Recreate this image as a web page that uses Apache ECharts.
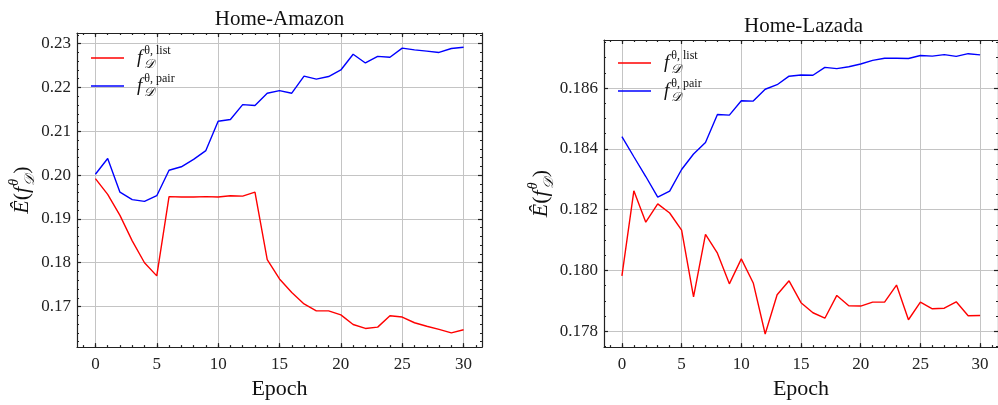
<!DOCTYPE html>
<html><head><meta charset="utf-8">
<script src="https://cdn.jsdelivr.net/npm/echarts@6/dist/echarts.min.js"></script>
<style>html,body{margin:0;padding:0;background:#fff}#c{width:998px;height:405px}</style>
</head><body><div id="c"></div>
<script>
// ---- data ----
const epochs = [0,1,2,3,4,5,6,7,8,9,10,11,12,13,14,15,16,17,18,19,20,21,22,23,24,25,26,27,28,29,30];
const amazonList = [0.1992,0.1956,0.1908,0.1850,0.1800,0.1770,0.1951,0.1950,0.1950,0.1951,0.1950,0.1953,0.1952,0.1961,0.1807,0.1763,0.1732,0.1706,0.1690,0.1690,0.1681,0.1659,0.1650,0.1653,0.1679,0.1676,0.1663,0.1655,0.1648,0.1640,0.1647];
const amazonPair = [0.2002,0.2038,0.1961,0.1944,0.1940,0.1953,0.2011,0.2019,0.2036,0.2056,0.2123,0.2127,0.2161,0.2159,0.2187,0.2193,0.2187,0.2226,0.2219,0.2225,0.2240,0.2276,0.2256,0.2271,0.2269,0.2290,0.2286,0.2283,0.2280,0.2289,0.2292];
const lazadaList = [0.17982,0.18262,0.18159,0.18219,0.18189,0.18133,0.17913,0.18119,0.18057,0.17956,0.18038,0.17959,0.17791,0.17920,0.17966,0.17894,0.17861,0.17843,0.17918,0.17884,0.17883,0.17896,0.17896,0.17952,0.17838,0.17896,0.17874,0.17876,0.17897,0.17851,0.17852];
const lazadaPair = [0.18440,0.18374,0.18309,0.18241,0.18261,0.18332,0.18383,0.18421,0.18513,0.18511,0.18558,0.18557,0.18596,0.18611,0.18639,0.18643,0.18642,0.18668,0.18664,0.18670,0.18679,0.18691,0.18698,0.18698,0.18697,0.18707,0.18705,0.18710,0.18704,0.18713,0.18709];
const xTicks = [0,5,10,15,20,25,30];
const amazonYTicks = [0.17,0.18,0.19,0.20,0.21,0.22,0.23];
const lazadaYTicks = [0.178,0.180,0.182,0.184,0.186];
const titles = ['Home-Amazon','Home-Lazada'];
const seriesNames = ['list','pair'];
const xLabel = 'Epoch';

// ---- styling ----
const FONT = "'Liberation Serif','DejaVu Serif',serif";
const AX = '#222';
const GRIDC = '#c4c4c4';
function minorList(a, b, step, dec) {
  const out = []; const n = Math.round((b - a) / step);
  for (let i = 0; i <= n; i++) out.push(+(a + i * step).toFixed(dec));
  return out;
}
const xMinor = minorList(-1, 31, 1, 0);
const amazonYMinor = minorList(0.162, 0.232, 0.002, 3);
const lazadaYMinor = minorList(0.1775, 0.1875, 0.0005, 4);

const nameRich = {
  e: {fontFamily: FONT, fontSize: 22, fontStyle: 'italic', color: '#111', lineHeight: 30, align: 'left'},
  p: {fontFamily: FONT, fontSize: 22, color: '#111', lineHeight: 30, align: 'left'},
  f: {fontFamily: FONT, fontSize: 22, fontStyle: 'italic', color: '#111', lineHeight: 30, align: 'left', padding: [0, 1, 0, 0]},
  sup: {fontFamily: FONT, fontSize: 14, fontStyle: 'italic', color: '#111', lineHeight: 14, verticalAlign: 'top', align: 'left', width: 0},
  sub: {fontFamily: FONT, fontSize: 14, fontStyle: 'italic', color: '#111', lineHeight: 13, verticalAlign: 'bottom', align: 'left', padding: [0, 1, 0, 0]}
};
const legRich = {
  pad: {width: 8, align: 'left', lineHeight: 26},
  f: {fontFamily: FONT, fontSize: 19, fontStyle: 'italic', color: '#111', lineHeight: 26, align: 'left', padding: [0, 2, 0, 0]},
  sup: {fontFamily: FONT, fontSize: 12, color: '#111', lineHeight: 12, verticalAlign: 'top', align: 'left', width: 0},
  sub: {fontFamily: FONT, fontSize: 13, fontStyle: 'italic', color: '#111', lineHeight: 12, verticalAlign: 'bottom', align: 'left'}
};

const grids = [
  {left: 77, top: 33, width: 405, height: 323},
  {left: 604, top: 40, width: 399, height: 316}
];
const xRange = [-1.5, 31.5];
const yRanges = [[0.16074, 0.23244], [0.17748, 0.18758]];
const yMajors = [amazonYTicks, lazadaYTicks];
const yMinors = [amazonYMinor, lazadaYMinor];
const yDec = [2, 3];
const yNameGap = [39, 46];

const xAxes = [], yAxes = [], series = [], legends = [], titleOpts = [];
const lineSt = {color: AX, width: 1.2};
const hiddenLine = {show: false, onZero: false};
grids.forEach((g, gi) => {
  xAxes.push({
    type: 'value', gridIndex: gi, position: 'bottom', min: xRange[0], max: xRange[1],
    axisLine: {show: true, onZero: false, lineStyle: lineSt},
    axisTick: {show: true, inside: true, length: 4, customValues: xTicks, lineStyle: lineSt},
    axisLabel: {customValues: xTicks, margin: 9, fontFamily: FONT, fontSize: 17, color: '#222'},
    splitLine: {show: true, lineStyle: {color: GRIDC, width: 1}},
    name: xLabel, nameLocation: 'middle', nameGap: 29,
    nameTextStyle: {fontFamily: FONT, fontSize: 22, color: '#111'}
  });
  xAxes.push({
    type: 'value', gridIndex: gi, position: 'bottom', min: xRange[0], max: xRange[1],
    axisLine: hiddenLine, axisLabel: {show: false}, splitLine: {show: false},
    axisTick: {show: true, inside: true, length: 2, customValues: xMinor, lineStyle: lineSt}
  });
  xAxes.push({
    type: 'value', gridIndex: gi, position: 'top', min: xRange[0], max: xRange[1],
    axisLine: {show: true, onZero: false, lineStyle: lineSt}, axisLabel: {show: false}, splitLine: {show: false},
    axisTick: {show: true, inside: true, length: 4, customValues: xTicks, lineStyle: lineSt}
  });
  xAxes.push({
    type: 'value', gridIndex: gi, position: 'top', min: xRange[0], max: xRange[1],
    axisLine: hiddenLine, axisLabel: {show: false}, splitLine: {show: false},
    axisTick: {show: true, inside: true, length: 2, customValues: xMinor, lineStyle: lineSt}
  });
  const yr = yRanges[gi], dec = yDec[gi];
  yAxes.push({
    type: 'value', gridIndex: gi, position: 'left', min: yr[0], max: yr[1],
    axisLine: {show: true, onZero: false, lineStyle: lineSt},
    axisTick: {show: true, inside: true, length: 4, customValues: yMajors[gi], lineStyle: lineSt},
    axisLabel: {customValues: yMajors[gi], margin: 6, fontFamily: FONT, fontSize: 17, color: '#222',
      formatter: v => v.toFixed(dec)},
    splitLine: {show: true, lineStyle: {color: GRIDC, width: 1}},
    name: '{e|Ê}{p|(}{f|f}{sup|θ}{sub|𝒟}{p|)}', nameLocation: 'middle', nameGap: yNameGap[gi],
    nameTextStyle: {rich: nameRich}
  });
  yAxes.push({
    type: 'value', gridIndex: gi, position: 'left', min: yr[0], max: yr[1],
    axisLine: hiddenLine, axisLabel: {show: false}, splitLine: {show: false},
    axisTick: {show: true, inside: true, length: 2, customValues: yMinors[gi], lineStyle: lineSt}
  });
  yAxes.push({
    type: 'value', gridIndex: gi, position: 'right', min: yr[0], max: yr[1],
    axisLine: {show: true, onZero: false, lineStyle: lineSt}, axisLabel: {show: false}, splitLine: {show: false},
    axisTick: {show: true, inside: true, length: 4, customValues: yMajors[gi], lineStyle: lineSt}
  });
  yAxes.push({
    type: 'value', gridIndex: gi, position: 'right', min: yr[0], max: yr[1],
    axisLine: hiddenLine, axisLabel: {show: false}, splitLine: {show: false},
    axisTick: {show: true, inside: true, length: 2, customValues: yMinors[gi], lineStyle: lineSt}
  });
  titleOpts.push({
    text: titles[gi], left: g.left + g.width / 2, top: gi === 0 ? 9 : 16, textAlign: 'center', padding: 0,
    textStyle: {fontFamily: FONT, fontSize: 21, fontWeight: 'normal', color: '#111'}
  });
  legends.push({
    orient: 'vertical', left: gi === 0 ? 91 : 618, top: gi === 0 ? 45 : 50, padding: 0, itemGap: 2,
    itemWidth: 33, itemHeight: 1.6, icon: 'rect', data: seriesNames.slice(),
    textStyle: {rich: legRich},
    formatter: n => '{pad|}{f|f}{sup|θ, ' + n + '}{sub|𝒟}'
  });
});

const dataSets = [[amazonList, amazonPair], [lazadaList, lazadaPair]];
const colors = ['#ff0000', '#0000ff'];
dataSets.forEach((pair, gi) => {
  pair.forEach((vals, si) => {
    series.push({
      type: 'line', name: seriesNames[si], xAxisIndex: gi * 4, yAxisIndex: gi * 4,
      data: epochs.map((e, i) => [e, vals[i]]), symbol: 'none', silent: true,
      lineStyle: {color: colors[si], width: 1.4}, itemStyle: {color: colors[si]}
    });
  });
});

const chart = echarts.init(document.getElementById('c'), null, {renderer: 'canvas'});
chart.setOption({
  animation: false, backgroundColor: '#fff',
  title: titleOpts, grid: grids, xAxis: xAxes, yAxis: yAxes, legend: legends, series: series
});
</script></body></html>
